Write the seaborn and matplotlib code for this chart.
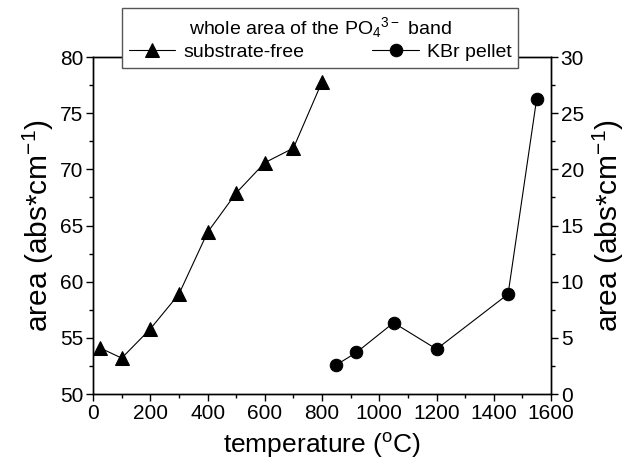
import matplotlib
matplotlib.use("Agg")
import matplotlib.pyplot as plt
from matplotlib.ticker import MultipleLocator
import seaborn as sns
import pandas as pd

# data
sub_temp = [25, 100, 200, 300, 400, 500, 600, 700, 800]
sub_area = [54.1, 53.2, 55.8, 58.9, 64.4, 67.9, 70.6, 71.9, 77.8]
kbr_temp = [850, 920, 1050, 1200, 1450, 1550]
kbr_area = [2.6, 3.7, 6.35, 4.0, 8.9, 26.3]
x_ticks = [0, 200, 400, 600, 800, 1000, 1200, 1400, 1600]

sns.set_style("ticks")
plt.rcParams['font.family'] = ['Liberation Sans', 'DejaVu Sans']
plt.rcParams['mathtext.default'] = 'regular'
plt.rcParams['text.color'] = 'black'
plt.rcParams['axes.labelcolor'] = 'black'
plt.rcParams['xtick.color'] = 'black'
plt.rcParams['ytick.color'] = 'black'

fig = plt.figure(figsize=(6.29, 4.68), dpi=100)
ax = fig.add_subplot(111)
fig.subplots_adjust(left=0.148, right=0.876, top=0.878, bottom=0.158)
ax2 = ax.twinx()

df1 = pd.DataFrame({"t": sub_temp, "a": sub_area})
df2 = pd.DataFrame({"t": kbr_temp, "a": kbr_area})

sns.lineplot(data=df1, x="t", y="a", ax=ax, color="black", lw=0.8,
             marker="^", markersize=10, markeredgecolor="black",
             label="substrate-free", legend=False)
sns.lineplot(data=df2, x="t", y="a", ax=ax2, color="black", lw=0.8,
             marker="o", markersize=9, markeredgecolor="black",
             label="KBr pellet", legend=False)

ax.set_xlim(0, 1600)
ax.set_ylim(50, 80)
ax2.set_ylim(0, 30)
ax.set_xticks(x_ticks)
ax.xaxis.set_minor_locator(MultipleLocator(100))
ax.yaxis.set_major_locator(MultipleLocator(5))
ax.yaxis.set_minor_locator(MultipleLocator(2.5))
ax2.yaxis.set_major_locator(MultipleLocator(5))
ax2.yaxis.set_minor_locator(MultipleLocator(2.5))

for a in (ax, ax2):
    for s in a.spines.values():
        s.set_linewidth(1.0)
        s.set_color("black")
    a.tick_params(which="major", direction="out", length=5, width=1,
                  labelsize=15, colors="black", pad=2)
    a.tick_params(which="minor", direction="out", length=3, width=1)
ax.tick_params(axis="both", which="both", top=False, right=False)
ax2.tick_params(axis="y", which="both", left=False, right=True)

ax.set_xlabel("temperature ($^{o}$C)", fontsize=19, labelpad=6)
ax.set_ylabel("area (abs*cm$^{-1}$)", fontsize=21.5, labelpad=3)
ax2.set_ylabel("area (abs*cm$^{-1}$)", fontsize=21.5, labelpad=5)

h1, l1 = ax.get_legend_handles_labels()
h2, l2 = ax2.get_legend_handles_labels()
leg = ax2.legend(h1 + h2, l1 + l2, ncol=2, loc="upper left",
                 bbox_to_anchor=(122 / 629, 1 - 8 / 468),
                 bbox_transform=fig.transFigure,
                 borderaxespad=0, fancybox=False, framealpha=1,
                 edgecolor="#555555", fontsize=14,
                 title="whole area of the PO$_4$$^{3-}$ band",
                 title_fontsize=14, handlelength=2.4, handletextpad=0.4,
                 columnspacing=3.5, borderpad=0.35, labelspacing=0.2)
leg.get_frame().set_linewidth(1.0)
leg.set_zorder(10)
leg.set_clip_on(False)

fig.savefig("out.png", dpi=100)
